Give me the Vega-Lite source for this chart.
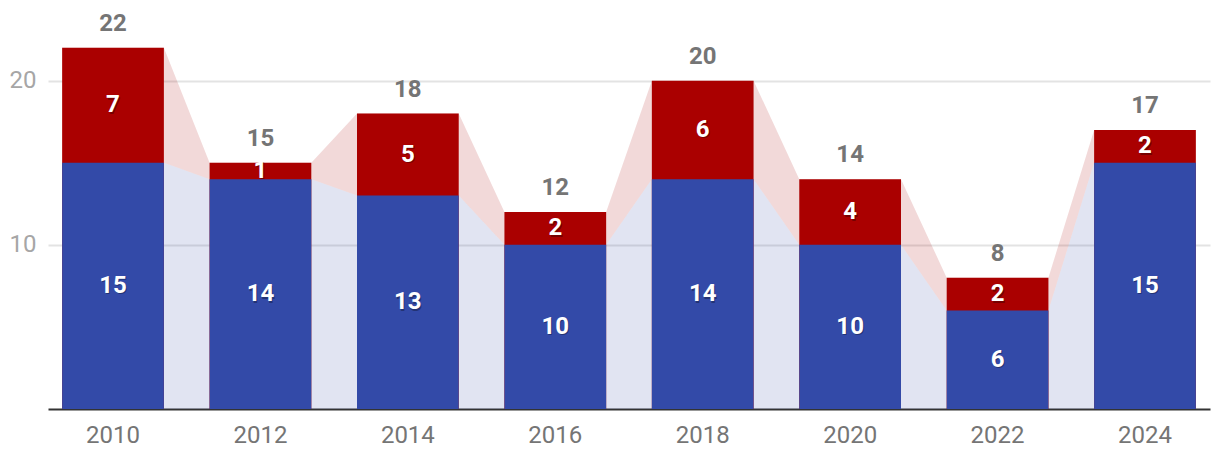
{
  "$schema": "https://vega.github.io/schema/vega-lite/v6.json",
  "width": 1162,
  "height": 394,
  "autosize": {"type": "none"},
  "padding": {"left": 48, "top": 15, "right": 10, "bottom": 57},
  "config": {"view": {"stroke": null}, "font": "Roboto"},
  "data": {
    "values": [
      {"year": 2010, "blue": 15, "red": 7, "total": 22},
      {"year": 2012, "blue": 14, "red": 1, "total": 15},
      {"year": 2014, "blue": 13, "red": 5, "total": 18},
      {"year": 2016, "blue": 10, "red": 2, "total": 12},
      {"year": 2018, "blue": 14, "red": 6, "total": 20},
      {"year": 2020, "blue": 10, "red": 4, "total": 14},
      {"year": 2022, "blue": 6, "red": 2, "total": 8},
      {"year": 2024, "blue": 15, "red": 2, "total": 17}
    ]
  },
  "resolve": {"scale": {"xOffset": "independent"}},
  "encoding": {
    "x": {
      "field": "year",
      "type": "ordinal",
      "title": null,
      "scale": {"paddingInner": 0.31, "paddingOuter": 0.096},
      "axis": {
        "labelAngle": 0,
        "ticks": false,
        "domainColor": "#333333",
        "domainWidth": 2,
        "labelFontSize": 24,
        "labelColor": "#757575",
        "labelPadding": 14,
        "grid": false
      }
    }
  },
  "layer": [
    {
      "transform": [{"fold": ["blue", "red"], "as": ["edge", "v"]}],
      "mark": {"type": "area", "color": "#AA0000", "opacity": 0.15},
      "encoding": {
        "xOffset": {"field": "edge", "type": "nominal", "scale": {"paddingInner": 1, "paddingOuter": 0}},
        "y": {
          "field": "total",
          "type": "quantitative",
          "title": null,
          "scale": {"domain": [0, 24]},
          "axis": {
            "values": [10, 20],
            "ticks": false,
            "domain": false,
            "gridColor": "#e3e3e3",
            "gridWidth": 2,
            "labelFontSize": 24,
            "labelColor": "#a6a6a6",
            "labelPadding": 12
          }
        },
        "y2": {"field": "blue"},
        "order": [{"field": "year"}, {"field": "edge"}]
      }
    },
    {
      "transform": [{"fold": ["blue", "red"], "as": ["edge", "v"]}],
      "mark": {"type": "area", "color": "#334AA8", "opacity": 0.15},
      "encoding": {
        "xOffset": {"field": "edge", "type": "nominal", "scale": {"paddingInner": 1, "paddingOuter": 0}},
        "y": {"field": "blue", "type": "quantitative", "title": null},
        "order": [{"field": "year"}, {"field": "edge"}]
      }
    },
    {
      "mark": {"type": "bar", "color": "#AA0000"},
      "encoding": {
        "y": {"field": "total", "type": "quantitative", "title": null}
      }
    },
    {
      "mark": {"type": "bar", "color": "#334AA8"},
      "encoding": {
        "y": {"field": "blue", "type": "quantitative", "title": null}
      }
    },
    {
      "transform": [{"fold": ["blue", "red"], "as": ["series", "v"]}],
      "mark": {"type": "text", "color": "#000000", "opacity": 0.3, "fontWeight": "bold", "fontSize": 24, "baseline": "middle", "dx": 1, "dy": 1.5},
      "encoding": {
        "y": {"field": "v", "type": "quantitative", "stack": "zero", "bandPosition": 0.5, "title": null},
        "detail": {"field": "series"},
        "order": {"field": "series"},
        "text": {"field": "v", "type": "quantitative"}
      }
    },
    {
      "transform": [{"fold": ["blue", "red"], "as": ["series", "v"]}],
      "mark": {"type": "text", "color": "#ffffff", "fontWeight": "bold", "fontSize": 24, "baseline": "middle"},
      "encoding": {
        "y": {"field": "v", "type": "quantitative", "stack": "zero", "bandPosition": 0.5, "title": null},
        "detail": {"field": "series"},
        "order": {"field": "series"},
        "text": {"field": "v", "type": "quantitative"}
      }
    },
    {
      "mark": {"type": "text", "color": "#757575", "fontWeight": "bold", "fontSize": 24, "baseline": "middle", "dy": -24},
      "encoding": {
        "y": {"field": "total", "type": "quantitative", "title": null},
        "text": {"field": "total", "type": "quantitative"}
      }
    }
  ]
}
